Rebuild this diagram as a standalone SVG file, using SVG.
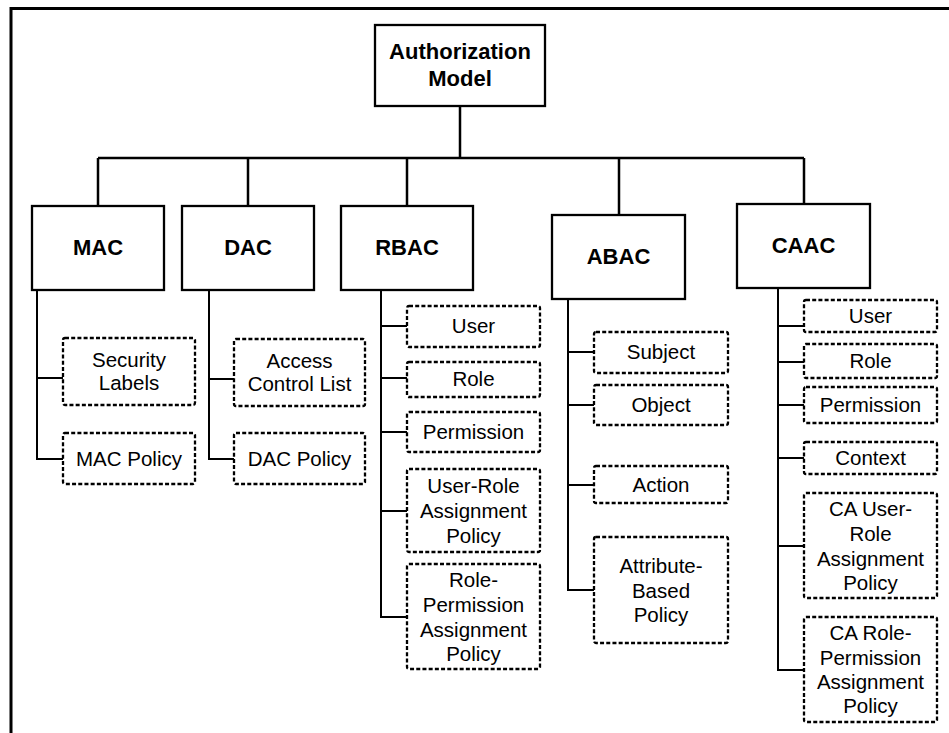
<svg xmlns="http://www.w3.org/2000/svg" width="949" height="733" viewBox="0 0 949 733">
<style>
.frame{fill:none;stroke:#000;stroke-width:3}
.main{fill:#fff;stroke:#000;stroke-width:2.3}
.sub{fill:#fff;stroke:#000;stroke-width:2.3;stroke-dasharray:4 2.2}
.tree{fill:none;stroke:#000;stroke-width:2.5}
.br{fill:none;stroke:#000;stroke-width:2}
text{font-family:"Liberation Sans",Arial,sans-serif;text-anchor:middle;fill:#000}
.b{font-weight:bold;font-size:22px}
.r{font-size:20.5px}
</style>
<rect width="949" height="733" fill="#fff"/>
<path class="frame" d="M11,733 V8.5 H949"/>
<g id="connectors">
<path class="tree" d="M460,106 V158 M98,158 H804 M98,158 V206 M248,158 V206 M407,158 V206 M619,158 V215 M804,158 V204"/>
<path class="br" d="M37,290 V459 H63 M37,378 H63"/>
<path class="br" d="M209,290 V459 H234 M209,379 H234"/>
<path class="br" d="M381,290 V617 H407 M381,326 H407 M381,378 H407 M381,432 H407 M381,511 H407"/>
<path class="br" d="M568,299 V590 H594 M568,352 H594 M568,405 H594 M568,485 H594"/>
<path class="br" d="M778,288 V670 H804 M778,326 H804 M778,362 H804 M778,405 H804 M778,458 H804 M778,546 H804"/>
</g>
<g id="root"><rect class="main" x="375" y="25" width="170" height="81"/><text class="b" x="460" y="59">Authorization</text><text class="b" x="460" y="86">Model</text></g>
<g id="mac"><rect class="main" x="32" y="206" width="132" height="84"/><text class="b" x="98" y="255">MAC</text></g>
<g id="dac"><rect class="main" x="182" y="206" width="132" height="84"/><text class="b" x="248" y="255">DAC</text></g>
<g id="rbac"><rect class="main" x="341" y="206" width="132" height="84"/><text class="b" x="407" y="255">RBAC</text></g>
<g id="abac"><rect class="main" x="552" y="215" width="133" height="84"/><text class="b" x="618.5" y="264">ABAC</text></g>
<g id="caac"><rect class="main" x="737" y="204" width="133" height="84"/><text class="b" x="803.5" y="253">CAAC</text></g>
<g id="mac-labels"><rect class="sub" x="63" y="338" width="132" height="67" rx="2"/><text class="r" x="129" y="367">Security</text><text class="r" x="129" y="390">Labels</text></g>
<g id="mac-policy"><rect class="sub" x="63" y="433" width="132" height="51" rx="2"/><text class="r" x="129" y="466">MAC Policy</text></g>
<g id="dac-acl"><rect class="sub" x="234" y="339" width="131" height="67" rx="2"/><text class="r" x="299.5" y="368">Access</text><text class="r" x="299.5" y="391">Control List</text></g>
<g id="dac-policy"><rect class="sub" x="234" y="433" width="131" height="51" rx="2"/><text class="r" x="299.5" y="466">DAC Policy</text></g>
<g id="rbac-user"><rect class="sub" x="407" y="306" width="133" height="41" rx="2"/><text class="r" x="473.5" y="333">User</text></g>
<g id="rbac-role"><rect class="sub" x="407" y="362" width="133" height="35" rx="2"/><text class="r" x="473.5" y="386">Role</text></g>
<g id="rbac-permission"><rect class="sub" x="407" y="412" width="133" height="40" rx="2"/><text class="r" x="473.5" y="439">Permission</text></g>
<g id="rbac-ura"><rect class="sub" x="407" y="469" width="133" height="83" rx="2"/><text class="r" x="473.5" y="493">User-Role</text><text class="r" x="473.5" y="518">Assignment</text><text class="r" x="473.5" y="543">Policy</text></g>
<g id="rbac-rpa"><rect class="sub" x="407" y="564" width="133" height="105" rx="2"/><text class="r" x="473.5" y="587">Role-</text><text class="r" x="473.5" y="612">Permission</text><text class="r" x="473.5" y="637">Assignment</text><text class="r" x="473.5" y="661">Policy</text></g>
<g id="abac-subject"><rect class="sub" x="594" y="332" width="134" height="41" rx="2"/><text class="r" x="661" y="359">Subject</text></g>
<g id="abac-object"><rect class="sub" x="594" y="385" width="134" height="40" rx="2"/><text class="r" x="661" y="412">Object</text></g>
<g id="abac-action"><rect class="sub" x="594" y="466" width="134" height="37" rx="2"/><text class="r" x="661" y="492">Action</text></g>
<g id="abac-policy"><rect class="sub" x="594" y="537" width="134" height="106" rx="2"/><text class="r" x="661" y="573">Attribute-</text><text class="r" x="661" y="598">Based</text><text class="r" x="661" y="622">Policy</text></g>
<g id="caac-user"><rect class="sub" x="804" y="300" width="133" height="32" rx="2"/><text class="r" x="870.5" y="323">User</text></g>
<g id="caac-role"><rect class="sub" x="804" y="344" width="133" height="34" rx="2"/><text class="r" x="870.5" y="368">Role</text></g>
<g id="caac-permission"><rect class="sub" x="804" y="387" width="133" height="36" rx="2"/><text class="r" x="870.5" y="412">Permission</text></g>
<g id="caac-context"><rect class="sub" x="804" y="442" width="133" height="32" rx="2"/><text class="r" x="870.5" y="465">Context</text></g>
<g id="caac-ura"><rect class="sub" x="804" y="493" width="133" height="105" rx="2"/><text class="r" x="870.5" y="516">CA User-</text><text class="r" x="870.5" y="541">Role</text><text class="r" x="870.5" y="566">Assignment</text><text class="r" x="870.5" y="590">Policy</text></g>
<g id="caac-rpa"><rect class="sub" x="804" y="617" width="133" height="105" rx="2"/><text class="r" x="870.5" y="640">CA Role-</text><text class="r" x="870.5" y="665">Permission</text><text class="r" x="870.5" y="689">Assignment</text><text class="r" x="870.5" y="713">Policy</text></g>
</svg>
